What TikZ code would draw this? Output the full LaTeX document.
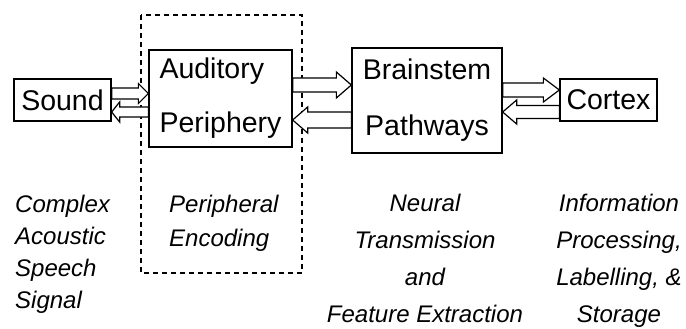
\documentclass[tikz,border=0pt]{standalone}
\usepackage{fontspec}
\setmainfont{Liberation Sans}
\usetikzlibrary{calc}
% seta vazada: #1 cauda, #2 ponta, #3 meia largura do corpo, #4 meia largura da cabeca, #5 comprimento da cabeca
\newcommand{\seta}[5]{%
\draw[seta] let \p1=(#1), \p2=(#2), \n1={sign(\x2-\x1)*#5} in
(\x1,\y2+#3)--(\x2-\n1*1pt,\y2+#3)--(\x2-\n1*1pt,\y2+#4)--(\x2,\y2)
--(\x2-\n1*1pt,\y2-#4)--(\x2-\n1*1pt,\y2-#3)--(\x1,\y2-#3)--cycle;}
\begin{document}
\begin{tikzpicture}[x=1pt,y=-1pt]
\tikzstyle{caixa}=[draw=black, line width=1.3pt, inner sep=0, align=center, font=\fontsize{28.5}{54}\selectfont]
\tikzstyle{seta}=[draw=black, line width=1.2pt, fill=white, line join=miter]
\tikzstyle{rotulo}=[inner sep=0, anchor=north, font=\itshape\fontsize{24}{#1}\selectfont]
\useasboundingbox (0,0) rectangle (686,329);
\draw[line width=1.3pt, dash pattern=on 5pt off 4pt](141,15) rectangle (302,273);
\node[caixa, minimum width=97pt, minimum height=42pt](som) at(62.5,100){Sound};
\node[caixa, minimum width=143pt, minimum height=97pt, align=left](periferia) at(220.5,98.5){Auditory\\Periphery};
\node[caixa, minimum width=150pt, minimum height=105pt, font=\fontsize{28.5}{56}\selectfont](tronco) at(427,100.5){Brainstem\\Pathways};
\node[caixa, minimum width=97pt, minimum height=42pt](cortex) at(608.5,100){Cortex};
\seta{som.east}{periferia.west|-0,93.5}{5.5pt}{10pt}{10}
\seta{periferia.west|-0,112}{som.east|-0,112}{5pt}{10pt}{8}
\seta{periferia.east|-0,85}{tronco.west|-0,85}{7pt}{13pt}{15}
\seta{tronco.west|-0,120}{periferia.east|-0,120}{8pt}{13pt}{15}
\seta{tronco.east|-0,90}{cortex.west|-0,90}{7pt}{12pt}{16}
\seta{cortex.west|-0,112}{tronco.east|-0,112}{6.5pt}{12pt}{14}
\node[rotulo=32, anchor=north west, align=left](sinal) at(15,195){Complex\\Acoustic\\Speech\\Signal};
\node[rotulo=34, anchor=north west, align=left](codificacao) at(169,195){Peripheral\\Encoding};
\node[rotulo=37, align=center](transmissao) at(425,194){Neural\\Transmission\\and\\Feature Extraction};
\node[rotulo=37, align=center](processamento) at(619,194){Information\\Processing,\\Labelling, \&\\Storage};
\end{tikzpicture}
\end{document}
